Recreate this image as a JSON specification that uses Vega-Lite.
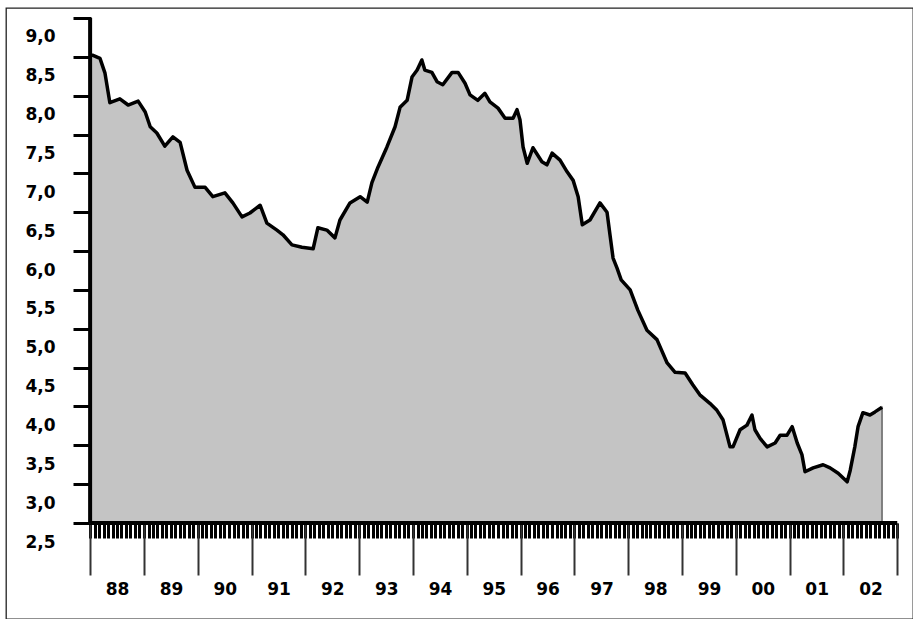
{
  "$schema": "https://vega.github.io/schema/vega-lite/v6.json",
  "width": 907,
  "height": 611,
  "autosize": {"type": "none"},
  "padding": {"left": 6, "top": 8, "right": 0, "bottom": 0},
  "background": "#ffffff",
  "config": {
    "view": {"stroke": "#222222", "strokeWidth": 1.3},
    "axis": {"labelFont": "DejaVu Sans", "labelFontWeight": "bold", "labelColor": "#000000", "domain": false, "grid": false, "title": null}
  },
  "data": {"values": [
    {"date": "1988-01-01", "rate": 8.52},
    {"date": "1988-01-21", "rate": 8.52},
    {"date": "1988-03-08", "rate": 8.48},
    {"date": "1988-04-11", "rate": 8.29},
    {"date": "1988-05-14", "rate": 7.91},
    {"date": "1988-07-21", "rate": 7.96},
    {"date": "1988-09-15", "rate": 7.88},
    {"date": "1988-11-22", "rate": 7.93},
    {"date": "1989-01-09", "rate": 7.79},
    {"date": "1989-02-12", "rate": 7.60},
    {"date": "1989-03-29", "rate": 7.52},
    {"date": "1989-05-22", "rate": 7.35},
    {"date": "1989-07-16", "rate": 7.47},
    {"date": "1989-09-03", "rate": 7.40},
    {"date": "1989-10-20", "rate": 7.04},
    {"date": "1989-12-13", "rate": 6.82},
    {"date": "1990-02-20", "rate": 6.82},
    {"date": "1990-04-13", "rate": 6.70},
    {"date": "1990-07-04", "rate": 6.75},
    {"date": "1990-08-27", "rate": 6.62},
    {"date": "1990-10-28", "rate": 6.44},
    {"date": "1990-12-21", "rate": 6.49},
    {"date": "1991-02-28", "rate": 6.59},
    {"date": "1991-04-15", "rate": 6.36},
    {"date": "1991-06-22", "rate": 6.27},
    {"date": "1991-08-02", "rate": 6.21},
    {"date": "1991-10-02", "rate": 6.08},
    {"date": "1991-12-09", "rate": 6.05},
    {"date": "1992-02-23", "rate": 6.03},
    {"date": "1992-03-26", "rate": 6.30},
    {"date": "1992-05-26", "rate": 6.27},
    {"date": "1992-07-20", "rate": 6.17},
    {"date": "1992-08-23", "rate": 6.40},
    {"date": "1992-10-30", "rate": 6.62},
    {"date": "1993-01-07", "rate": 6.70},
    {"date": "1993-02-24", "rate": 6.63},
    {"date": "1993-03-28", "rate": 6.88},
    {"date": "1993-05-08", "rate": 7.08},
    {"date": "1993-07-08", "rate": 7.34},
    {"date": "1993-09-01", "rate": 7.60},
    {"date": "1993-10-05", "rate": 7.85},
    {"date": "1993-11-22", "rate": 7.94},
    {"date": "1993-12-25", "rate": 8.24},
    {"date": "1994-01-29", "rate": 8.33},
    {"date": "1994-03-02", "rate": 8.46},
    {"date": "1994-03-22", "rate": 8.33},
    {"date": "1994-05-09", "rate": 8.30},
    {"date": "1994-06-13", "rate": 8.18},
    {"date": "1994-07-22", "rate": 8.14},
    {"date": "1994-09-23", "rate": 8.30},
    {"date": "1994-11-03", "rate": 8.30},
    {"date": "1994-12-20", "rate": 8.16},
    {"date": "1995-01-23", "rate": 8.01},
    {"date": "1995-03-17", "rate": 7.94},
    {"date": "1995-05-04", "rate": 8.03},
    {"date": "1995-06-07", "rate": 7.92},
    {"date": "1995-08-01", "rate": 7.84},
    {"date": "1995-09-18", "rate": 7.71},
    {"date": "1995-11-11", "rate": 7.71},
    {"date": "1995-12-08", "rate": 7.82},
    {"date": "1995-12-28", "rate": 7.69},
    {"date": "1996-01-18", "rate": 7.34},
    {"date": "1996-02-15", "rate": 7.13},
    {"date": "1996-03-25", "rate": 7.33},
    {"date": "1996-05-25", "rate": 7.15},
    {"date": "1996-06-28", "rate": 7.11},
    {"date": "1996-08-02", "rate": 7.26},
    {"date": "1996-09-25", "rate": 7.17},
    {"date": "1996-11-12", "rate": 7.02},
    {"date": "1996-12-23", "rate": 6.91},
    {"date": "1997-01-26", "rate": 6.70},
    {"date": "1997-02-23", "rate": 6.34},
    {"date": "1997-04-16", "rate": 6.40},
    {"date": "1997-06-23", "rate": 6.62},
    {"date": "1997-08-10", "rate": 6.50},
    {"date": "1997-08-30", "rate": 6.21},
    {"date": "1997-09-20", "rate": 5.91},
    {"date": "1997-10-17", "rate": 5.78},
    {"date": "1997-11-14", "rate": 5.63},
    {"date": "1998-01-14", "rate": 5.50},
    {"date": "1998-03-07", "rate": 5.24},
    {"date": "1998-05-08", "rate": 4.98},
    {"date": "1998-07-15", "rate": 4.86},
    {"date": "1998-09-22", "rate": 4.56},
    {"date": "1998-11-15", "rate": 4.44},
    {"date": "1999-01-22", "rate": 4.43},
    {"date": "1999-03-15", "rate": 4.28},
    {"date": "1999-05-02", "rate": 4.15},
    {"date": "1999-07-09", "rate": 4.04},
    {"date": "1999-08-26", "rate": 3.95},
    {"date": "1999-10-06", "rate": 3.83},
    {"date": "1999-11-23", "rate": 3.48},
    {"date": "1999-12-13", "rate": 3.48},
    {"date": "2000-01-30", "rate": 3.70},
    {"date": "2000-03-17", "rate": 3.76},
    {"date": "2000-04-20", "rate": 3.89},
    {"date": "2000-05-10", "rate": 3.70},
    {"date": "2000-06-14", "rate": 3.59},
    {"date": "2000-08-01", "rate": 3.48},
    {"date": "2000-09-24", "rate": 3.53},
    {"date": "2000-10-28", "rate": 3.63},
    {"date": "2000-12-14", "rate": 3.63},
    {"date": "2001-01-18", "rate": 3.74},
    {"date": "2001-02-21", "rate": 3.53},
    {"date": "2001-03-25", "rate": 3.38},
    {"date": "2001-04-15", "rate": 3.16},
    {"date": "2001-06-09", "rate": 3.21},
    {"date": "2001-08-16", "rate": 3.25},
    {"date": "2001-10-02", "rate": 3.21},
    {"date": "2001-11-26", "rate": 3.14},
    {"date": "2002-01-26", "rate": 3.03},
    {"date": "2002-02-16", "rate": 3.18},
    {"date": "2002-03-19", "rate": 3.48},
    {"date": "2002-04-10", "rate": 3.74},
    {"date": "2002-05-13", "rate": 3.92},
    {"date": "2002-06-30", "rate": 3.89},
    {"date": "2002-08-03", "rate": 3.93},
    {"date": "2002-09-20", "rate": 3.99}
  ]},
  "resolve": {"axis": {"x": "independent", "y": "independent"}},
  "layer": [
    {
      "mark": {"type": "area", "color": "#c4c4c4", "opacity": 1, "stroke": "#444444", "strokeWidth": 1.2},
      "encoding": {
        "x": {
          "field": "date", "type": "temporal",
          "scale": {"type": "utc", "domain": [{"year": 1986, "month": 6, "date": 9, "utc": true}, {"year": 2003, "month": 4, "date": 18, "utc": true}]},
          "axis": {
            "orient": "bottom", "offset": -96, "labels": false,
            "tickCount": {"interval": "month", "step": 1},
            "tickSize": 15, "tickWidth": 3, "tickColor": "#000000",
            "tickOpacity": {"condition": {"test": "datum.value < utc(1987,11,20) || datum.value > utc(2003,0,10)", "value": 0}, "value": 1}
          }
        },
        "y": {
          "field": "rate", "type": "quantitative",
          "scale": {"domain": [1.2645, 9.1287], "nice": false, "zero": false},
          "axis": {
            "orient": "left", "offset": -85,
            "values": [2.5, 3.0, 3.5, 4.0, 4.5, 5.0, 5.5, 6.0, 6.5, 7.0, 7.5, 8.0, 8.5, 9.0],
            "tickSize": 18, "tickWidth": 3, "tickColor": "#000000",
            "labelFontSize": 17, "labelPadding": 18, "labelOffset": 19,
            "labelFlush": false, "labelOverlap": false,
            "labelExpr": "replace(format(datum.value, '.1f'), '.', ',')"
          }
        },
        "y2": {"datum": 2.5}
      }
    },
    {
      "mark": {"type": "line", "color": "#000000", "strokeWidth": 3.5, "strokeJoin": "round"},
      "encoding": {
        "x": {
          "field": "date", "type": "temporal",
          "axis": {
            "orient": "bottom", "offset": -96,
            "tickCount": {"interval": "year", "step": 1},
            "tickSize": 52, "tickWidth": 2, "tickColor": "#333333",
            "tickOpacity": {"condition": {"test": "datum.value < utc(1987,11,20) || datum.value > utc(2003,0,10)", "value": 0}, "value": 1},
            "labelOpacity": {"condition": {"test": "datum.value < utc(1987,11,20) || datum.value > utc(2002,11,20)", "value": 0}, "value": 1},
            "labelExpr": "utcFormat(datum.value, '%y')",
            "labelFontSize": 17, "labelPadding": 6, "labelOffset": 27,
            "labelFlush": false, "labelOverlap": false, "labelAlign": "center"
          }
        },
        "y": {"field": "rate", "type": "quantitative", "axis": null}
      }
    },
    {
      "data": {"values": [{}]},
      "mark": {"type": "rule", "color": "#000000", "strokeWidth": 4},
      "encoding": {
        "x": {"datum": {"year": 1988, "month": 1, "date": 1, "utc": true}, "type": "temporal", "axis": null},
        "y": {"datum": 2.5, "type": "quantitative", "axis": null},
        "y2": {"datum": 9.0}
      }
    },
    {
      "data": {"values": [{}]},
      "mark": {"type": "rule", "color": "#000000", "strokeWidth": 4},
      "encoding": {
        "x": {"datum": {"year": 1988, "month": 1, "date": 1, "utc": true}, "type": "temporal", "axis": null},
        "x2": {"datum": {"year": 2003, "month": 1, "date": 1, "utc": true}},
        "y": {"datum": 2.5, "type": "quantitative", "axis": null}
      }
    }
  ]
}
